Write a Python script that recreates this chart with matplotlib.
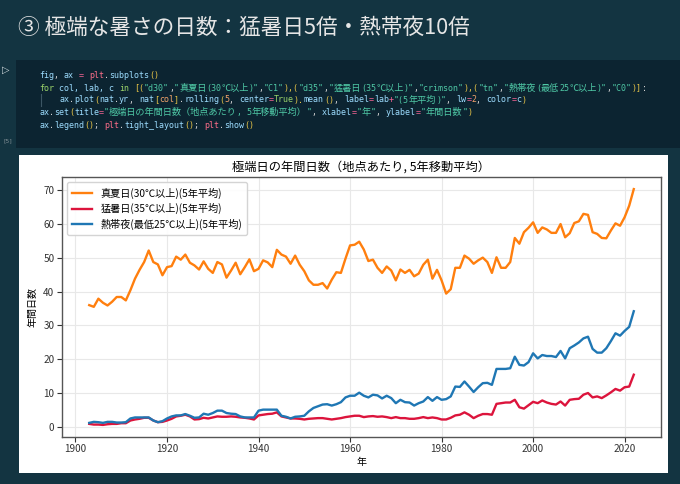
"""Notebook screenshot: extreme heat day counts (5-year rolling mean)."""

import matplotlib

matplotlib.use("Agg")

import matplotlib.pyplot as plt
import numpy as np
from matplotlib.patches import Rectangle


W, H = 680, 484
PAGE_BG = "#133441"
CELL_BG = "#0c2431"
CODE_FONT = ["DejaVu Sans Mono", "Noto Sans CJK JP"]
JP_FONT = ["Noto Sans CJK JP", "DejaVu Sans"]

years = np.arange(1903, 2023)

# 真夏日 (>=30C), 5-year rolling mean
d30 = [
    36.0, 35.5, 37.9, 36.7, 35.9, 37.0, 38.4, 38.4, 37.4, 40.4,
    43.8, 46.4, 48.7, 52.1, 48.7, 48.0, 44.8, 47.2, 47.5, 50.3,
    49.4, 50.9, 48.5, 47.7, 46.5, 48.9, 46.7, 45.5, 48.7, 48.0,
    44.1, 46.2, 48.5, 45.1, 47.2, 49.5, 46.0, 46.7, 49.2, 48.6,
    47.2, 52.3, 50.9, 50.3, 48.2, 50.6, 47.9, 46.0, 43.3, 42.0,
    42.0, 42.5, 40.9, 43.5, 45.7, 45.5, 49.7, 53.6, 53.8, 54.7,
    52.4, 49.0, 49.4, 47.0, 45.5, 47.4, 46.2, 43.3, 46.5, 45.5,
    46.4, 44.5, 45.3, 47.9, 49.4, 43.8, 46.4, 43.3, 39.4, 40.7,
    47.0, 47.0, 50.6, 49.7, 48.2, 49.2, 50.0, 48.7, 45.5, 50.1,
    47.0, 47.0, 48.7, 55.8, 54.1, 57.5, 58.8, 60.4, 57.3, 58.9,
    58.3, 57.3, 57.3, 59.9, 56.0, 57.2, 60.2, 60.7, 62.9, 62.6,
    57.5, 57.0, 55.8, 55.7, 58.0, 60.1, 59.4, 61.9, 65.3, 70.2,
]

# 猛暑日 (>=35C)
d35 = [
    1.0, 0.8, 0.8, 0.7, 0.9, 1.0, 1.0, 1.2, 1.2, 2.0,
    2.3, 2.5, 2.8, 2.8, 2.0, 1.5, 1.6, 2.0, 2.5, 3.2,
    3.4, 3.7, 3.2, 2.3, 2.4, 2.8, 2.6, 2.9, 3.2, 3.1,
    3.1, 3.2, 3.1, 2.9, 2.8, 2.6, 2.3, 3.5, 3.7, 3.9,
    4.0, 4.4, 3.2, 2.9, 2.6, 2.6, 2.5, 2.3, 2.5, 2.6,
    2.7, 2.7, 2.5, 2.3, 2.5, 2.7, 3.0, 3.2, 3.4, 3.4,
    3.0, 3.2, 3.3, 3.1, 3.2, 3.0, 2.7, 3.0, 2.7, 2.7,
    2.5, 2.5, 2.7, 3.0, 2.7, 2.9, 2.7, 2.3, 2.3, 2.8,
    3.5, 3.7, 4.4, 3.7, 2.7, 3.4, 3.9, 3.9, 3.7, 6.9,
    7.1, 7.3, 7.3, 8.1, 5.9, 5.5, 6.5, 7.5, 7.1, 7.9,
    7.3, 6.9, 6.7, 7.6, 6.4, 8.1, 8.3, 8.4, 9.6, 10.1,
    8.8, 9.1, 8.6, 9.4, 10.3, 11.3, 10.8, 11.8, 12.0, 15.5,
]

# 熱帯夜 (min >=25C)
tn = [
    1.3, 1.6, 1.5, 1.3, 1.6, 1.6, 1.4, 1.4, 1.5, 2.6,
    2.9, 2.9, 2.9, 2.9, 2.0, 1.5, 1.8, 2.6, 3.2, 3.5,
    3.5, 3.9, 3.4, 2.8, 2.9, 4.0, 3.7, 4.2, 4.9, 4.9,
    4.2, 4.0, 3.9, 3.2, 2.9, 2.9, 2.9, 4.9, 5.2, 5.2,
    5.2, 5.2, 3.4, 3.1, 2.6, 3.1, 3.2, 3.4, 4.7, 5.7,
    6.2, 6.7, 6.8, 6.4, 6.8, 7.4, 8.8, 9.3, 9.3, 10.2,
    9.3, 8.8, 9.6, 9.4, 8.5, 9.3, 8.6, 7.1, 8.1, 7.4,
    7.3, 6.4, 7.1, 7.6, 8.9, 7.8, 8.9, 8.1, 8.3, 9.1,
    12.0, 11.9, 13.5, 12.0, 10.4, 11.8, 13.0, 13.1, 12.5, 17.2,
    17.2, 17.2, 17.4, 20.8, 18.4, 18.2, 19.2, 21.8, 20.3, 21.3,
    21.0, 21.0, 20.7, 22.5, 20.3, 23.3, 24.1, 25.0, 26.2, 26.7,
    23.1, 22.0, 22.0, 23.3, 25.4, 27.7, 27.0, 28.4, 29.6, 34.2,
]

series = [
    (d30, "真夏日(30℃以上)(5年平均)", "C1"),
    (d35, "猛暑日(35℃以上)(5年平均)", "crimson"),
    (tn, "熱帯夜(最低25℃以上)(5年平均)", "C0"),
]

heading = "③ 極端な暑さの日数：猛暑日5倍・熱帯夜10倍"
chart_title = "極端日の年間日数（地点あたり, 5年移動平均）"

# syntax colours (rough Colab dark theme)
ID, KW, ST, NU, MO, OP, BR, PU = (
    "#9cdcfe", "#9ad26a", "#4fc9a6", "#f2a36b",
    "#ff6e8a", "#f06292", "#e8c547", "#d4d4d4",
)
code_lines = [
    (39, 75.5, [("fig", ID), (", ", PU), ("ax", ID), (" = ", OP), ("plt", MO),
                (".", PU), ("subplots", ID), ("()", BR)]),
    (39, 88, [("for", KW), (" col, lab, c ", ID), ("in", KW), (" ", ID), ("[(", BR),
              ('"d30"', ST), (",", PU), ('"真夏日(30℃以上)"', ST), (",", PU),
              ('"C1"', ST), ("),(", BR), ('"d35"', ST), (",", PU),
              ('"猛暑日(35℃以上)"', ST), (",", PU), ('"crimson"', ST), ("),(", BR),
              ('"tn"', ST), (",", PU), ('"熱帯夜(最低25℃以上)"', ST), (",", PU),
              ('"C0"', ST), (")]", BR), (":", PU)]),
    (59, 100, [("ax", ID), (".", PU), ("plot", ID), ("(", BR), ("nat", ID), (".", PU),
               ("yr", ID), (", ", PU), ("nat", ID), ("[", BR), ("col", NU), ("]", BR),
               (".", PU), ("rolling", ID), ("(", BR), ("5", NU), (", ", PU),
               ("center", ID), ("=", OP), ("True", KW), (").", BR), ("mean", ID), ("()", BR),
               (", ", PU), ("label", ID), ("=", OP), ("lab", ID), ("+", OP), ('"(5年平均)"', ST),
               (", ", PU), ("lw", ID), ("=", OP), ("2", NU), (", ", PU), ("color", ID),
               ("=", OP), ("c", ID), (")", BR)]),
    (39, 112.5, [("ax", ID), (".", PU), ("set", ID), ("(", BR), ("title", ID), ("=", OP),
                 ('"極端日の年間日数（地点あたり, 5年移動平均）"', ST), (", ", PU),
                 ("xlabel", ID), ("=", OP), ('"年"', ST), (", ", PU), ("ylabel", ID),
                 ("=", OP), ('"年間日数"', ST), (")", BR)]),
    (39, 125.5, [("ax", ID), (".", PU), ("legend", ID), ("()", BR), ("; ", PU),
                 ("plt", MO), (".", PU), ("tight_layout", ID), ("()", BR), ("; ", PU),
                 ("plt", MO), (".", PU), ("show", ID), ("()", BR)]),
]


def fx(px: float) -> float:
    return px / W


def fy(py: float) -> float:
    return 1 - py / H


def split_runs(text: str) -> list[tuple[str, bool]]:
    """Split a token into runs of ASCII and wide (CJK) characters."""
    runs = []
    for ch in text:
        wide = ord(ch) > 0x2000
        if runs and runs[-1][1] == wide:
            runs[-1] = (runs[-1][0] + ch, wide)
        else:
            runs.append((ch, wide))
    return runs


def draw_code_line(fig, renderer, x_px, y_px, parts) -> None:
    """Lay out coloured code tokens one after another."""
    x = x_px
    for text, color in parts:
        for run, wide in split_runs(text):
            t = fig.text(fx(x), fy(y_px), run.replace(" ", "\u00a0"), color=color,
                         family=CODE_FONT, fontsize=6.6 if wide else 6.0,
                         va="center", ha="left")
            x += t.get_window_extent(renderer=renderer).width


def main() -> None:
    plt.rcParams["font.family"] = JP_FONT
    fig = plt.figure(figsize=(W / 100, H / 100), dpi=100, facecolor=PAGE_BG)
    renderer = fig.canvas.get_renderer()

    fig.patches.append(Rectangle((fx(16), fy(148)), fx(664), 88 / H, transform=fig.transFigure,
                                 facecolor=CELL_BG, edgecolor="none", zorder=-2))
    fig.patches.append(Rectangle((fx(19), fy(473)), fx(649), 318 / H, transform=fig.transFigure,
                                 facecolor="white", edgecolor="none", zorder=-2))

    fig.text(fx(18), fy(28), heading, color="#e6e6e6", fontsize=15.6, va="center", ha="left")
    fig.text(fx(2), fy(70), "▷", color="#cfd8dc", fontsize=7, va="center", family=["DejaVu Sans"])
    fig.text(fx(3), fy(141), "[5]", color="#7f8c93", fontsize=4.5, va="center",
             family=["DejaVu Sans"])
    fig.add_artist(plt.Line2D([fx(41), fx(41)], [fy(94), fy(106)], color="#3c5664", lw=0.8))

    for x_px, y_px, parts in code_lines:
        draw_code_line(fig, renderer, x_px, y_px, parts)

    ax = fig.add_axes([fx(62), fy(436.7), fx(599), (436.7 - 177.3) / H])
    ax.set_facecolor("white")
    for values, label, color in series:
        ax.plot(years, values, label=label, lw=1.7, color=color)

    ax.set_title(chart_title, fontsize=8.8, pad=5)
    ax.set_xlabel("年", fontsize=7.2, labelpad=2)
    ax.set_ylabel("年間日数", fontsize=7.2, labelpad=4)
    ax.tick_params(labelsize=7.2, length=3.5, width=0.8, colors="#333333", pad=2)
    ax.grid(color="#e8e8e8", lw=0.8)
    ax.set_axisbelow(True)
    for spine in ax.spines.values():
        spine.set_color("#555555")
        spine.set_linewidth(1.0)

    ax.legend(loc="upper left", fontsize=7.3, framealpha=0.9, edgecolor="#d0d0d0",
              handlelength=2.0, borderpad=0.5, labelspacing=0.45)

    fig.savefig("out.png", dpi=100, facecolor=PAGE_BG)
    plt.close(fig)


if __name__ == "__main__":
    main()
